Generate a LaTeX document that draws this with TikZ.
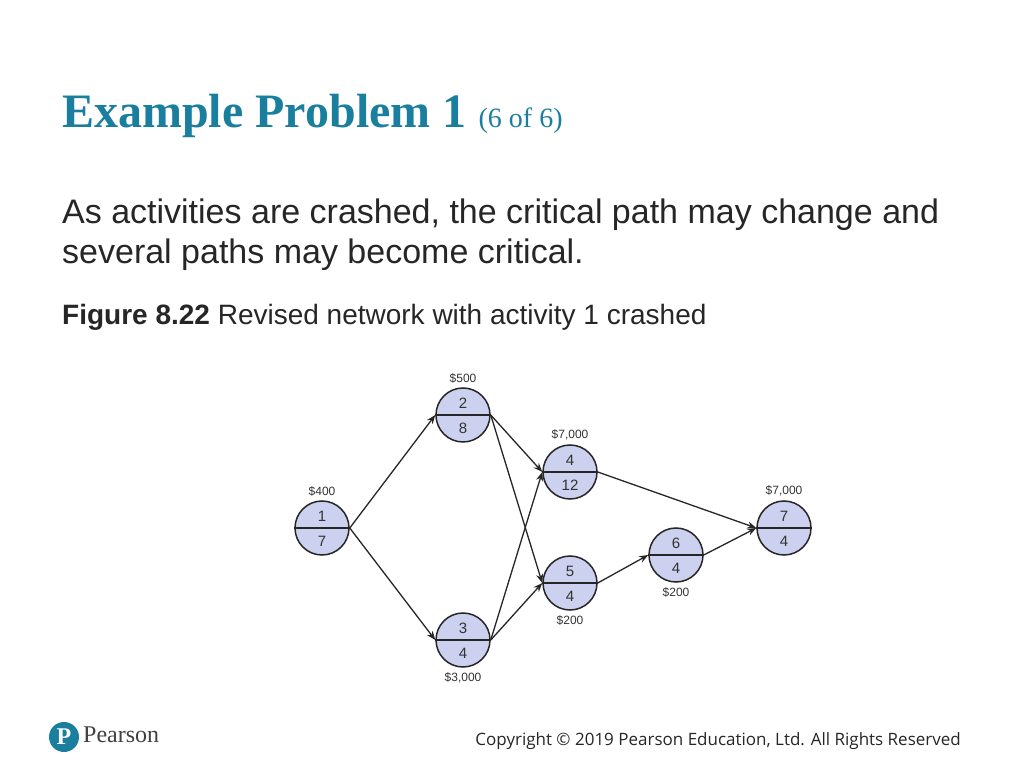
\documentclass[tikz,border=0pt]{standalone}
\usepackage{fontspec}
\setmainfont{Liberation Sans}
\newfontfamily\serifT{Liberation Serif}
\newfontfamily\opens{Open Sans}
\usetikzlibrary{arrows.meta}
\begin{document}
\begin{tikzpicture}[x=1pt,y=1pt,
  ev/.style={circle,draw=black!85,line width=1.5pt,fill=evfill,minimum size=54pt,inner sep=0pt},
  num/.style={font=\fontsize{15}{15}\selectfont,text=black!80,inner sep=0},
  cost/.style={font=\fontsize{12}{12}\selectfont,text=black!80,inner sep=0},
  arr/.style={-{Stealth[length=9pt,width=7pt]},line width=1.3pt,black!85}]
\definecolor{evfill}{HTML}{CBD1EE}
\definecolor{teal}{HTML}{1A7F9E}
\useasboundingbox (0,0) rectangle (1024,768);
\node[anchor=base west,text=teal,inner sep=0] (title) at (62,640) {\serifT\bfseries\fontsize{48}{48}\selectfont Example Problem 1 \mdseries\fontsize{28}{28}\selectfont(6 of 6)};
\node[anchor=base west,inner sep=0,align=left,font=\fontsize{34}{40}\selectfont,text=black!85] (body) at (62,504) {As activities are crashed, the critical path may change and\\several paths may become critical.};
\node[anchor=base west,inner sep=0,font=\fontsize{28}{28}\selectfont,text=black!85] (cap) at (62,443) {\textbf{Figure 8.22} Revised network with activity 1 crashed};
% nodes
\foreach \n/\x/\y/\a/\b in {1/322/528/1/7, 2/463/415/2/8, 3/463/640/3/4, 4/570/472/4/12, 5/570/583/5/4, 6/676/555/6/4, 7/784/528/7/4}{
  \node[ev] (n\n) at (\x,768-\y) {};
  \draw[line width=1.5pt,black!85] (n\n.west) -- (n\n.east);
  \node[num] (t\n) at ([yshift=12pt]n\n.center) {\a};
  \node[num] (d\n) at ([yshift=-13pt]n\n.center) {\b};
}
\node[cost,anchor=south] (c1) at ([yshift=4pt]n1.north) {\$400};
\node[cost,anchor=south] (c2) at ([yshift=4pt]n2.north) {\$500};
\node[cost,anchor=north] (c3) at ([yshift=-5pt]n3.south) {\$3,000};
\node[cost,anchor=south] (c4) at ([yshift=4pt]n4.north) {\$7,000};
\node[cost,anchor=north] (c5) at ([yshift=-5pt]n5.south) {\$200};
\node[cost,anchor=north] (c6) at ([yshift=-5pt]n6.south) {\$200};
\node[cost,anchor=south] (c7) at ([yshift=4pt]n7.north) {\$7,000};
% arrows
\draw[arr] (n1.east) -- (n2.west);
\draw[arr] (n1.east) -- (n3.west);
\draw[arr] (n2.east) -- (n4.west);
\draw[arr] (n2.east) -- (n5.west);
\draw[arr] (n3.east) -- (n4.west);
\draw[arr] (n3.east) -- (n5.west);
\draw[arr] (n4.east) -- (n7.west);
\draw[arr] (n5.east) -- (n6.west);
\draw[arr] (n6.east) -- (n7.west);
% footer
\node[circle,fill=teal,minimum size=30pt,inner sep=0,text=white,font=\serifT\bfseries\fontsize{24}{24}\selectfont] (logo) at (64,31) {P};
\node[anchor=west,inner sep=0,text=black!75,font=\serifT\fontsize{24}{24}\selectfont] (pearson) at (83,33) {Pearson};
\node[anchor=base east,inner sep=0,text=black!85,font=\opens\fontsize{17}{17}\selectfont] (copy) at (961,23) {Copyright © 2019 Pearson Education, Ltd. All Rights Reserved};
\end{tikzpicture}
\end{document}
